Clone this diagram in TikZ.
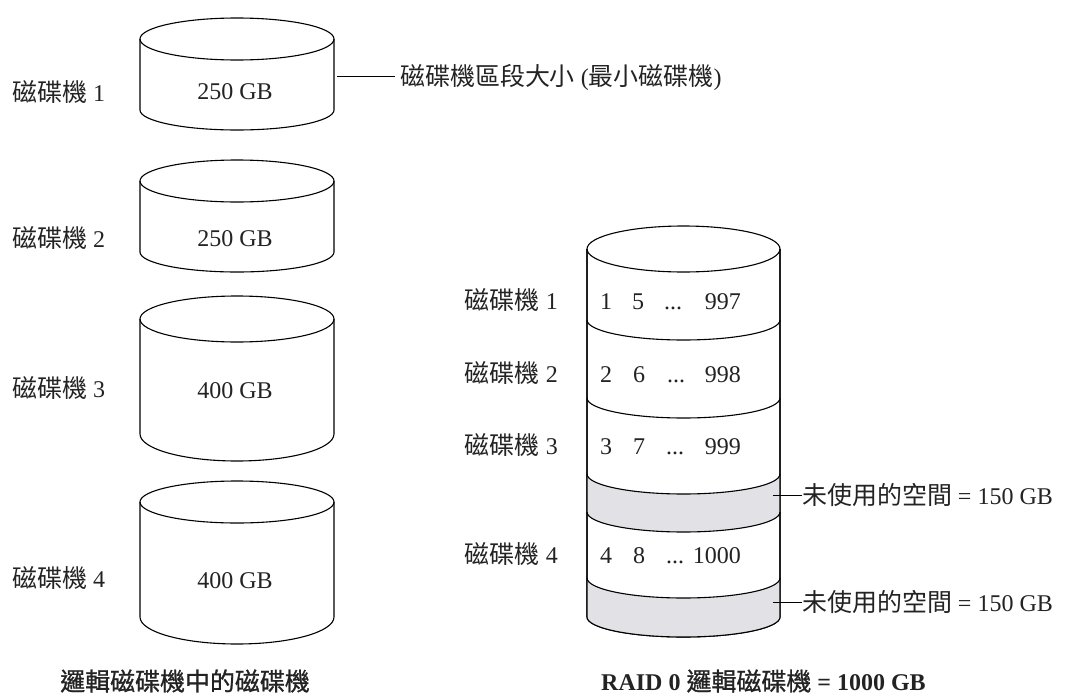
\documentclass[tikz,border=0pt]{standalone}
\usepackage{fontspec}
\setmainfont{Liberation Serif}
\newfontfamily\cjk{Noto Sans CJK TC}[Scale=1.04]
\newfontfamily\cjkb{Noto Sans CJK TC}[Scale=1.04, FakeBold=0.9]
\definecolor{unused}{RGB}{226,226,230}
\definecolor{ink}{RGB}{35,35,35}
\newcommand\mycyl[6]{% cx rx ytop ry ybot ry2
  \draw[cylline, fill=white] ({#1-#2},#3) -- ({#1-#2},#5)
    arc[start angle=180,end angle=360,x radius=#2pt,y radius=#6pt] -- ({#1+#2},#3);
  \draw[cylline] (#1,#3) ellipse[x radius=#2pt, y radius=#4pt];
}
\newcommand\divarc[3]{% xleft rx y
  \draw[cylline] (#1,#3) arc[start angle=180,end angle=360,x radius=#2pt,y radius=20pt];
}
\newcommand\zhb[1]{{\mdseries\cjkb #1}}
\begin{document}
\begin{tikzpicture}[x=1pt,y=-1pt,
  cylline/.style={line width=1.1pt, draw=black},
  txt/.style={inner sep=0pt, text height=19pt, text depth=0pt, text=ink,
    font=\fontsize{24}{28}\selectfont},
  captxt/.style={txt, font=\fontsize{24}{28}\selectfont\bfseries},
  leader/.style={line width=1pt, draw=black}]
\useasboundingbox (0,0) rectangle (1065,696);

% ---------- left cylinders ----------
\mycyl{237}{97}{39}{21}{110}{20}
\mycyl{237}{97}{181}{21}{252}{20}
\mycyl{237}{97}{319}{23}{434}{27}
\mycyl{237}{97}{502}{21}{617}{27}

\node[txt] (c1) at (235,90) {250 GB};
\node[txt] (c2) at (235,237) {250 GB};
\node[txt] (c3) at (235,389) {400 GB};
\node[txt] (c4) at (235,579) {400 GB};

\node[txt,anchor=west] (l1) at (12,92) {{\cjk 磁碟機} 1};
\node[txt,anchor=west] (l2) at (12,238) {{\cjk 磁碟機} 2};
\node[txt,anchor=west] (l3) at (12,388) {{\cjk 磁碟機} 3};
\node[txt,anchor=west] (l4) at (12,578) {{\cjk 磁碟機} 4};

\coordinate (s1) at (337,76);
\node[txt,anchor=west] (seg) at (400,76) {{\cjk 磁碟機區段大小} ({\cjk 最小磁碟機})};
\draw[leader] (s1) -- ([xshift=-5pt]seg.west);

% ---------- right cylinder ----------
\mycyl{683.5}{96.5}{249}{23}{617}{20}
% gray bands
\fill[unused] (587,474) arc[start angle=180,end angle=360,x radius=96.5pt,y radius=20pt]
  -- (780,512) arc[start angle=360,end angle=180,x radius=96.5pt,y radius=20pt] -- cycle;
\fill[unused] (587,578) arc[start angle=180,end angle=360,x radius=96.5pt,y radius=20pt]
  -- (780,617) arc[start angle=360,end angle=180,x radius=96.5pt,y radius=20pt] -- cycle;
\draw[cylline] (587,249) -- (587,617) arc[start angle=180,end angle=360,x radius=96.5pt,y radius=20pt] -- (780,249);
\divarc{587}{96.5}{320}
\divarc{587}{96.5}{398}
\divarc{587}{96.5}{474}
\divarc{587}{96.5}{512}
\divarc{587}{96.5}{578}

\node[txt,anchor=east] (r1) at (558,300) {{\cjk 磁碟機} 1};
\node[txt,anchor=east] (r2) at (558,373) {{\cjk 磁碟機} 2};
\node[txt,anchor=east] (r3) at (558,445) {{\cjk 磁碟機} 3};
\node[txt,anchor=east] (r4) at (558,554) {{\cjk 磁碟機} 4};

\node[txt,anchor=west] (a1) at (600,300) {1};
\node[txt,anchor=west] (b1) at (632,300) {5};
\node[txt,anchor=west] (d1) at (664,300) {...};
\node[txt,anchor=east] (e1) at (741,300) {997};
\node[txt,anchor=west] (a2) at (600,373) {2};
\node[txt,anchor=west] (b2) at (633,373) {6};
\node[txt,anchor=west] (d2) at (667,373) {...};
\node[txt,anchor=east] (e2) at (741,373) {998};
\node[txt,anchor=west] (a3) at (600,445) {3};
\node[txt,anchor=west] (b3) at (633,445) {7};
\node[txt,anchor=west] (d3) at (666,445) {...};
\node[txt,anchor=east] (e3) at (741,445) {999};
\node[txt,anchor=west] (a4) at (600,554) {4};
\node[txt,anchor=west] (b4) at (633,554) {8};
\node[txt,anchor=west] (d4) at (666,554) {...};
\node[txt,anchor=east] (e4) at (741,554) {1000};

\coordinate (u1) at (773,495);
\coordinate (u2) at (773,602);
\node[txt,anchor=west] (n1) at (802,495) {{\cjk 未使用的空間} = 150 GB};
\node[txt,anchor=west] (n2) at (802,602) {{\cjk 未使用的空間} = 150 GB};
\draw[leader] (u1) -- (n1.west);
\draw[leader] (u2) -- (n2.west);

% ---------- captions ----------
\node[captxt] (capL) at (185,681) {\zhb{邏輯磁碟機中的磁碟機}};
\node[captxt,anchor=west] (capR) at (601,681) {RAID 0 \zhb{邏輯磁碟機} = 1000 GB};
\end{tikzpicture}
\end{document}
